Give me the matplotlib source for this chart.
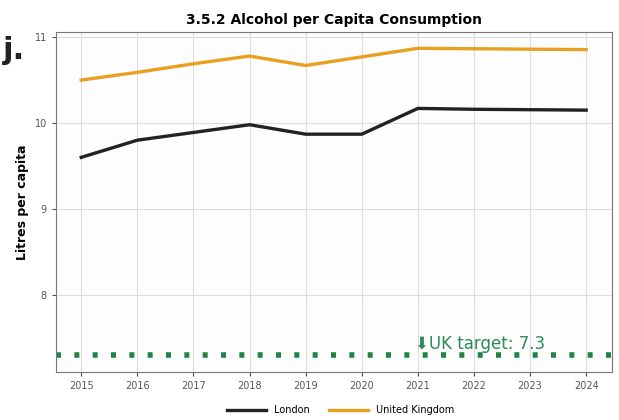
import matplotlib.pyplot as plt

years = [2015, 2016, 2017, 2018, 2019, 2020, 2021, 2022, 2023, 2024]
london = [9.60, 9.80, 9.89, 9.98, 9.87, 9.87, 10.17, 10.16, 10.155, 10.15]
uk = [10.50, 10.59, 10.69, 10.78, 10.67, 10.77, 10.87, 10.865, 10.86, 10.855]
target = 7.3

fig = plt.figure(figsize=(6.19, 4.2), dpi=100)
ax = fig.add_axes([56 / 619, 48 / 420, 556 / 619, 340 / 420])

ax.plot(years, london, color='#222222', lw=2.4, label='London')
ax.plot(years, uk, color='#E8A020', lw=2.4, label='United Kingdom')
ax.axhline(target, color='#1E8449', lw=4, ls=(0, (0.9, 2.4)))
ax.annotate('\u2b07UK target: 7.3', (2020.95, target + 0.02), color='#2E8B57',
            fontsize=12, va='bottom', ha='left')

ax.set_xlim(2014.55, 2024.46)
ax.set_ylim(7.1, 11.06)
ax.set_xticks(years)
ax.set_yticks([8, 9, 10, 11])
ax.tick_params(labelsize=7, colors='#555555', length=3)
ax.grid(color='#dddddd', lw=0.8)
ax.set_facecolor('#fdfdfd')
for s in ax.spines.values():
    s.set_color('#777777')
    s.set_linewidth(0.8)
ax.set_ylabel('Litres per capita', fontsize=9, fontweight='bold')
ax.set_title('3.5.2 Alcohol per Capita Consumption', fontsize=10, fontweight='bold', pad=6)

fig.text(0.005, 0.86, 'j.', fontsize=22, fontweight='bold', color='#222222')
fig.legend(loc='lower center', ncol=2, frameon=False, fontsize=7,
           bbox_to_anchor=(0.55, -0.01), handlelength=4)

fig.savefig('out.png', dpi=100)
